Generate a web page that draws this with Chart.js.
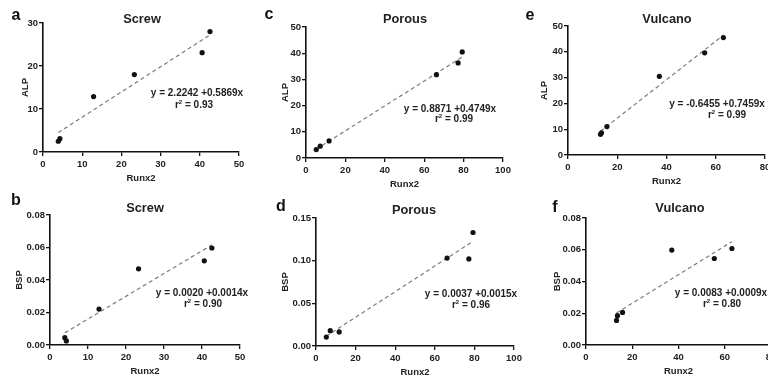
<!DOCTYPE html>
<html>
<head>
<meta charset="utf-8">
<script src="https://cdn.jsdelivr.net/npm/chart.js@4.4.1/dist/chart.umd.min.js"></script>
<style>
  html, body { margin: 0; padding: 0; background: #fff; overflow: hidden; }
  #page { position: relative; width: 768px; height: 382px; overflow: hidden; font-family: "Liberation Sans", Arial, sans-serif; color: #222; }
  canvas { position: absolute; }
  .lbl { position: absolute; transform: translate(-50%, -50%); white-space: nowrap; font-weight: bold; line-height: 1; }
  .letter { font-size: 16px; color: #111; }
  .title { font-size: 12.8px; }
  .eq { font-size: 10px; }
</style>
</head>
<body>
<div id="page"></div>
<script>
// Runx2 (x) against ALP / BSP for the three implant surfaces
const screwRunx2 = [3.9, 4.3, 12.9, 23.3, 40.6, 42.6];
const screwALP = [2.5, 3.1, 12.9, 18.0, 23.1, 28.0];
const screwBSP = [0.0045, 0.0025, 0.0221, 0.0469, 0.0518, 0.0597];

const porousRunx2 = [5.2, 7.2, 11.7, 66.2, 77.2, 79.3];
const porousALP = [3.2, 4.5, 6.5, 31.8, 36.3, 40.5];
const porousBSP = [0.0105, 0.0180, 0.0165, 0.1030, 0.1020, 0.1330];

const vulcanoRunx2 = [13.2, 13.6, 15.8, 37.1, 55.5, 63.1];
const vulcanoALP = [8.0, 8.6, 11.0, 30.5, 39.6, 45.5];
const vulcanoBSP = [0.0155, 0.0185, 0.0205, 0.0598, 0.0545, 0.0608];

// fitted lines as printed on each panel (a..f)
const fitIntercept = [2.2242, 0.0020, 0.8871, 0.0037, -0.6455, 0.0083];
const fitSlope = [0.5869, 0.0014, 0.4749, 0.0015, 0.7459, 0.0009];
const rSquared = ['0.93', '0.90', '0.99', '0.96', '0.99', '0.80'];

// tick labels
const ticksX50 = [0, 10, 20, 30, 40, 50];
const ticksX80 = [0, 20, 40, 60, 80];
const ticksX100 = [0, 20, 40, 60, 80, 100];
const ticksALP30 = [0, 10, 20, 30];
const ticksALP50 = [0, 10, 20, 30, 40, 50];
const ticksBSP008 = [0, 0.02, 0.04, 0.06, 0.08];
const ticksBSP015 = [0, 0.05, 0.10, 0.15];

const FONT = '"Liberation Sans", Arial, sans-serif';
const page = document.getElementById('page');

// box = [x of xmin, y of ymax, x of xmax, y of ymin] in page pixels
const panels = [
    { letter: 'a', name: 'Screw', x: screwRunx2, y: screwALP, yLabel: 'ALP', xt: ticksX50, yt: ticksALP30, dec: 0,
      box: [43, 23, 239, 152], gap: 18, letterPos: [16, 15], titlePos: [142, 19], eqPos: [197, 93], rPos: [194, 104] },
    { letter: 'b', name: 'Screw', x: screwRunx2, y: screwBSP, yLabel: 'BSP', xt: ticksX50, yt: ticksBSP008, dec: 2,
      box: [50, 215, 240, 345], gap: 31, letterPos: [16, 200], titlePos: [145, 208], eqPos: [202, 293], rPos: [203, 303] },
    { letter: 'c', name: 'Porous', x: porousRunx2, y: porousALP, yLabel: 'ALP', xt: ticksX100, yt: ticksALP50, dec: 0,
      box: [306, 27, 503, 158], gap: 21, letterPos: [269, 14], titlePos: [405, 19], eqPos: [450, 109], rPos: [454, 118] },
    { letter: 'd', name: 'Porous', x: porousRunx2, y: porousBSP, yLabel: 'BSP', xt: ticksX100, yt: ticksBSP015, dec: 2,
      box: [316, 218, 514, 346], gap: 31, letterPos: [281, 206], titlePos: [414, 210], eqPos: [471, 294], rPos: [471, 304] },
    { letter: 'e', name: 'Vulcano', x: vulcanoRunx2, y: vulcanoALP, yLabel: 'ALP', xt: ticksX80, yt: ticksALP50, dec: 0,
      box: [568, 26, 765, 155], gap: 24, letterPos: [530, 15], titlePos: [667, 19], eqPos: [717, 104], rPos: [727, 114] },
    { letter: 'f', name: 'Vulcano', x: vulcanoRunx2, y: vulcanoBSP, yLabel: 'BSP', xt: ticksX80, yt: ticksBSP008, dec: 2,
      box: [586, 218, 771, 345], gap: 29, letterPos: [555, 207], titlePos: [680, 208], eqPos: [721, 293], rPos: [722, 303] },
];

function addLabel(text, pos, cls) {
    const d = document.createElement('div');
    d.className = 'lbl ' + cls;
    d.innerHTML = text;
    d.style.left = pos[0] + 'px';
    d.style.top = pos[1] + 'px';
    page.appendChild(d);
}

function drawPanel(p, i) {
    const [L, T, R, B] = p.box;
    const W = p.gap + 5;
    const padTop = 10, padRight = 14, H = 32;
    const cw = W + (R - L) + padRight;
    const ch = padTop + (B - T) + H;

    const cv = document.createElement('canvas');
    cv.width = cw;
    cv.height = ch;
    cv.style.width = cw + 'px';
    cv.style.height = ch + 'px';
    cv.style.left = (L - W) + 'px';
    cv.style.top = (T - padTop) + 'px';
    page.appendChild(cv);

    const a = fitIntercept[i], b = fitSlope[i];
    const xMin = Math.min(...p.x), xMax = Math.max(...p.x);
    const points = p.x.map((v, k) => ({ x: v, y: p.y[k] }));
    const fit = [{ x: xMin, y: a + b * xMin }, { x: xMax, y: a + b * xMax }];

    const tickFont = { family: FONT, size: 9.5, weight: 'bold' };
    const axisCommon = {
        type: 'linear',
        grid: { display: true, drawOnChartArea: false, drawTicks: true, tickLength: 4, color: '#111', lineWidth: 1.3 },
        border: { display: true, color: '#111', width: 1.6 },
    };

    new Chart(cv, {
        type: 'scatter',
        data: {
            datasets: [
                { data: points, backgroundColor: '#111', borderWidth: 0, pointRadius: 2.6 },
                { type: 'line', data: fit, borderColor: '#7c7c7c', borderWidth: 1.2, borderDash: [4, 3], pointRadius: 0, fill: false },
            ],
        },
        options: {
            responsive: false,
            animation: false,
            layout: { padding: { left: 0, top: padTop, right: padRight, bottom: 0 } },
            plugins: { legend: { display: false }, tooltip: { enabled: false } },
            scales: {
                x: {
                    ...axisCommon,
                    min: p.xt[0],
                    max: p.xt[p.xt.length - 1],
                    afterBuildTicks: (s) => { s.ticks = p.xt.map((v) => ({ value: v })); },
                    afterFit: (s) => { s.height = H; },
                    ticks: { color: '#222', font: tickFont, padding: 3, maxRotation: 0, autoSkip: false, callback: (v) => v },
                    title: { display: true, text: 'Runx2', color: '#222', font: tickFont, padding: 0 },
                },
                y: {
                    ...axisCommon,
                    min: p.yt[0],
                    max: p.yt[p.yt.length - 1],
                    afterBuildTicks: (s) => { s.ticks = p.yt.map((v) => ({ value: v })); },
                    afterFit: (s) => { s.width = W; },
                    ticks: { color: '#222', font: tickFont, padding: 1, autoSkip: false, callback: (v) => v.toFixed(p.dec) },
                    title: { display: true, text: p.yLabel, color: '#222', font: tickFont, padding: 0 },
                },
            },
        },
    });

    addLabel(p.letter, p.letterPos, 'letter');
    addLabel(p.name, p.titlePos, 'title');
    const eq = 'y = ' + a.toFixed(4) + ' +' + b.toFixed(4) + 'x';
    addLabel(eq, p.eqPos, 'eq');
    addLabel('r<sup style="font-size:6px;vertical-align:4px">2</sup> = ' + rSquared[i], p.rPos, 'eq');
}

panels.forEach(drawPanel);
</script>
</body>
</html>
